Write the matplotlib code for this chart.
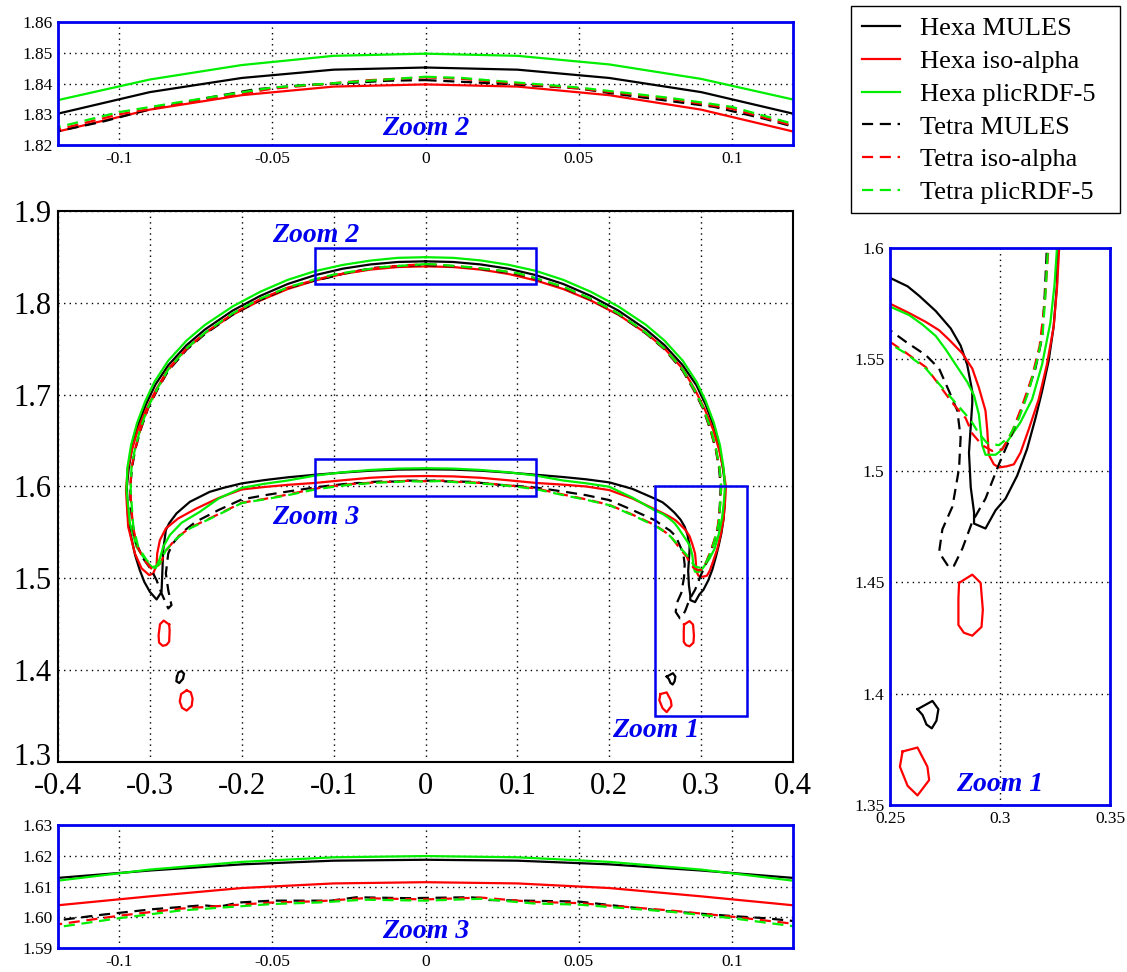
import matplotlib.pyplot as plt
from matplotlib.patches import Rectangle
from matplotlib.lines import Line2D
from matplotlib.transforms import ScaledTranslation

plt.rcParams['font.family'] = ['Liberation Serif', 'DejaVu Serif']

# ---- contour data (closed paths: top -> right outer -> right tail -> inner arc -> left tail -> left outer -> top)
hexa_mules_x = [0.000, 0.030, 0.060, 0.090, 0.120, 0.150, 0.180, 0.210, 0.240, 0.260, 0.280, 0.295, 0.305, 0.314,
                0.320, 0.324, 0.3262, 0.3259, 0.3244, 0.3221, 0.3191, 0.3161, 0.3123, 0.3078, 0.3025, 0.2980,
                0.2934, 0.2882, 0.2882, 0.2867, 0.2859, 0.2874, 0.2874, 0.2851, 0.2821, 0.2776, 0.2708, 0.2633,
                0.2580, 0.2500, 0.2250, 0.2000, 0.1750, 0.1500, 0.1200, 0.0900, 0.0600, 0.0300, 0.0000, -0.0300,
                -0.0600, -0.0900, -0.1200, -0.1500, -0.1750, -0.2000, -0.2200, -0.2348, -0.2565, -0.2710, -0.2790,
                -0.2826, -0.2855, -0.2862, -0.2873, -0.2927, -0.3000, -0.3060, -0.3110, -0.3160, -0.3210, -0.3240,
                -0.3250, -0.3230, -0.3190, -0.3130, -0.3040, -0.2940, -0.2800, -0.2600, -0.2400, -0.2100, -0.1800,
                -0.1500, -0.1200, -0.0900, -0.0600, -0.0300, 0.0000]
hexa_mules_y = [1.8452, 1.8445, 1.8418, 1.8372, 1.8302, 1.8205, 1.8075, 1.7915, 1.7710, 1.7540, 1.7320, 1.7100,
                1.6890, 1.6650, 1.6420, 1.6180, 1.6000, 1.5837, 1.5648, 1.5493, 1.5356, 1.5235, 1.5098, 1.4978,
                1.4875, 1.4823, 1.4741, 1.4763, 1.4814, 1.4926, 1.5081, 1.5304, 1.5356, 1.5476, 1.5562, 1.5639,
                1.5717, 1.5785, 1.5828, 1.5866, 1.5975, 1.6045, 1.6078, 1.6103, 1.6128, 1.6152, 1.6172, 1.6184,
                1.6187, 1.6184, 1.6172, 1.6152, 1.6128, 1.6100, 1.6070, 1.6034, 1.5985, 1.5942, 1.5833, 1.5707,
                1.5600, 1.5525, 1.5307, 1.5125, 1.4853, 1.4770, 1.4853, 1.4960, 1.5090, 1.5250, 1.5480, 1.5700,
                1.6000, 1.6200, 1.6440, 1.6670, 1.6900, 1.7110, 1.7320, 1.7540, 1.7710, 1.7915, 1.8075, 1.8205,
                1.8302, 1.8372, 1.8418, 1.8445, 1.8452]

hexa_iso_x = [0.000, 0.030, 0.060, 0.090, 0.120, 0.150, 0.180, 0.210, 0.240, 0.260, 0.280, 0.293, 0.304, 0.313,
              0.3195, 0.3240, 0.3269, 0.3259, 0.3244, 0.3213, 0.3176, 0.3130, 0.3093, 0.3063, 0.3030, 0.2995,
              0.2972, 0.2949, 0.2942, 0.2934, 0.2904, 0.2874, 0.2829, 0.2769, 0.2723, 0.2663, 0.2587, 0.2500,
              0.2250, 0.2000, 0.1750, 0.1500, 0.1200, 0.0900, 0.0600, 0.0300, 0.0000, -0.0300, -0.0600, -0.0900,
              -0.1200, -0.1500, -0.1750, -0.2000, -0.2250, -0.2493, -0.2692, -0.2826, -0.2891, -0.2920, -0.2927,
              -0.2964, -0.3007, -0.3090, -0.3163, -0.3236, -0.3260, -0.3240, -0.3195, -0.3130, -0.3040, -0.2930,
              -0.2800, -0.2600, -0.2400, -0.2100, -0.1800, -0.1500, -0.1200, -0.0900, -0.0600, -0.0300, 0.0000]
hexa_iso_y = [1.8397, 1.8390, 1.8362, 1.8315, 1.8244, 1.8150, 1.8025, 1.7870, 1.7670, 1.7505, 1.7280, 1.7060,
              1.6840, 1.6620, 1.6400, 1.6200, 1.6000, 1.5820, 1.5648, 1.5476, 1.5321, 1.5184, 1.5081, 1.5029,
              1.5020, 1.5015, 1.5029, 1.5072, 1.5184, 1.5270, 1.5373, 1.5459, 1.5527, 1.5588, 1.5631, 1.5668,
              1.5708, 1.5750, 1.5870, 1.5961, 1.6000, 1.6020, 1.6039, 1.6068, 1.6095, 1.6110, 1.6114, 1.6110,
              1.6095, 1.6068, 1.6039, 1.6018, 1.5995, 1.5968, 1.5875, 1.5761, 1.5652, 1.5543, 1.5416, 1.5271,
              1.5144, 1.5053, 1.5035, 1.5108, 1.5271, 1.5561, 1.5960, 1.6200, 1.6400, 1.6620, 1.6840, 1.7060,
              1.7280, 1.7505, 1.7670, 1.7870, 1.8025, 1.8150, 1.8244, 1.8315, 1.8362, 1.8390, 1.8397]

hexa_plic_x = [0.000, 0.030, 0.060, 0.090, 0.120, 0.150, 0.180, 0.210, 0.240, 0.260, 0.280, 0.295, 0.305, 0.314,
               0.3205, 0.3245, 0.3259, 0.3248, 0.3229, 0.3191, 0.3146, 0.3093, 0.3040, 0.3002, 0.2980, 0.2934,
               0.2919, 0.2904, 0.2882, 0.2851, 0.2799, 0.2753, 0.2708, 0.2648, 0.2587, 0.2500, 0.2250, 0.2000,
               0.1750, 0.1500, 0.1200, 0.0900, 0.0600, 0.0300, 0.0000, -0.0300, -0.0600, -0.0900, -0.1200,
               -0.1500, -0.1750, -0.2000, -0.2250, -0.2457, -0.2655, -0.2783, -0.2855, -0.2891, -0.2935, -0.2971,
               -0.3036, -0.3145, -0.3217, -0.3254, -0.3245, -0.3205, -0.3140, -0.3050, -0.2950, -0.2800, -0.2600,
               -0.2400, -0.2100, -0.1800, -0.1500, -0.1200, -0.0900, -0.0600, -0.0300, 0.0000]
hexa_plic_y = [1.8497, 1.8490, 1.8462, 1.8415, 1.8348, 1.8250, 1.8120, 1.7960, 1.7760, 1.7590, 1.7370, 1.7140,
               1.6930, 1.6690, 1.6450, 1.6200, 1.6000, 1.5837, 1.5665, 1.5476, 1.5321, 1.5218, 1.5141, 1.5089,
               1.5072, 1.5072, 1.5115, 1.5253, 1.5338, 1.5399, 1.5476, 1.5545, 1.5605, 1.5656, 1.5699, 1.5737,
               1.5880, 1.5997, 1.6035, 1.6065, 1.6119, 1.6155, 1.6180, 1.6195, 1.6199, 1.6195, 1.6180, 1.6155,
               1.6119, 1.6065, 1.6030, 1.5985, 1.5870, 1.5724, 1.5605, 1.5471, 1.5343, 1.5216, 1.5114, 1.5119,
               1.5180, 1.5343, 1.5598, 1.5961, 1.6200, 1.6450, 1.6690, 1.6930, 1.7140, 1.7370, 1.7590, 1.7760,
               1.7960, 1.8120, 1.8250, 1.8346, 1.8413, 1.8460, 1.8490, 1.8497]

tetra_mules_x = [0.0000, 0.0108, 0.0275, 0.0500, 0.0608, 0.0775, 0.0942, 0.1108, 0.1200, 0.1500, 0.1800, 0.2100,
                 0.2400, 0.2600, 0.2800, 0.2920, 0.3020, 0.3100, 0.3160, 0.3195, 0.3213, 0.3203, 0.3191, 0.3161,
                 0.3115, 0.3055, 0.2995, 0.2934, 0.2874, 0.2829, 0.2791, 0.2769, 0.2723, 0.2738, 0.2784, 0.2814,
                 0.2821, 0.2806, 0.2769, 0.2723, 0.2663, 0.2572, 0.2500, 0.2250, 0.2000, 0.1750, 0.1500, 0.1200,
                 0.1108, 0.1000, 0.0775, 0.0608, 0.0500, 0.0208, 0.0192, 0.0142, -0.0058, -0.0225, -0.0308,
                 -0.0500, -0.0608, -0.0675, -0.0725, -0.0892, -0.1058, -0.1200, -0.1500, -0.1750, -0.2000,
                 -0.2250, -0.2500, -0.2650, -0.2750, -0.2800, -0.2826, -0.2800, -0.2765, -0.2800, -0.2873,
                 -0.2927, -0.2982, -0.3073, -0.3163, -0.3210, -0.3213, -0.3195, -0.3160, -0.3100, -0.3020,
                 -0.2920, -0.2800, -0.2600, -0.2400, -0.2100, -0.1800, -0.1500, -0.1200, -0.1058, -0.0892,
                 -0.0725, -0.0558, -0.0392, -0.0225, -0.0125, 0.0000]
tetra_mules_y = [1.8411, 1.8406, 1.8398, 1.8384, 1.8368, 1.8346, 1.8324, 1.8285, 1.8260, 1.8165, 1.8035, 1.7875,
                 1.7665, 1.7495, 1.7260, 1.7050, 1.6850, 1.6620, 1.6400, 1.6200, 1.6000, 1.5785, 1.5596, 1.5459,
                 1.5321, 1.5167, 1.5029, 1.4875, 1.4771, 1.4651, 1.4574, 1.4565, 1.4634, 1.4737, 1.4840, 1.5012,
                 1.5150, 1.5270, 1.5356, 1.5459, 1.5519, 1.5579, 1.5631, 1.5745, 1.5852, 1.5905, 1.5945, 1.5988,
                 1.5997, 1.6004, 1.6021, 1.6039, 1.6051, 1.6056, 1.6062, 1.6065, 1.6062, 1.6065, 1.6054, 1.6054,
                 1.6048, 1.6034, 1.6039, 1.6026, 1.6008, 1.5990, 1.5945, 1.5905, 1.5859, 1.5745, 1.5616, 1.5500,
                 1.5380, 1.5271, 1.5053, 1.4871, 1.4708, 1.4672, 1.4836, 1.4980, 1.5089, 1.5216, 1.5416, 1.5779,
                 1.6000, 1.6200, 1.6400, 1.6620, 1.6850, 1.7050, 1.7260, 1.7490, 1.7660, 1.7870, 1.8030, 1.8160,
                 1.8245, 1.8275, 1.8318, 1.8351, 1.8381, 1.8395, 1.8403, 1.8409, 1.8411]

tetra_iso_x = [0.0000, 0.0120, 0.0200, 0.0500, 0.0800, 0.1000, 0.1200, 0.1500, 0.1800, 0.2100, 0.2400, 0.2600,
               0.2800, 0.2920, 0.3020, 0.3100, 0.3160, 0.3200, 0.3220, 0.3203, 0.3180, 0.3145, 0.3100, 0.3055,
               0.3010, 0.2965, 0.2919, 0.2874, 0.2844, 0.2784, 0.2720, 0.2663, 0.2572, 0.2500, 0.2250, 0.2000,
               0.1750, 0.1500, 0.1200, 0.1000, 0.0800, 0.0500, 0.0350, 0.0180, 0.0000, -0.0200, -0.0350, -0.0500,
               -0.0800, -0.1000, -0.1200, -0.1500, -0.1750, -0.2000, -0.2250, -0.2565, -0.2710, -0.2826, -0.2880,
               -0.2950, -0.2990, -0.3060, -0.3140, -0.3185, -0.3215, -0.3200, -0.3160, -0.3100, -0.3020, -0.2920,
               -0.2800, -0.2600, -0.2400, -0.2100, -0.1800, -0.1500, -0.1200, -0.1000, -0.0500, -0.0200, 0.0000]
tetra_iso_y = [1.8420, 1.8415, 1.8408, 1.8384, 1.8350, 1.8318, 1.8263, 1.8170, 1.8040, 1.7880, 1.7670, 1.7500,
               1.7270, 1.7060, 1.6860, 1.6630, 1.6410, 1.6200, 1.6000, 1.5750, 1.5560, 1.5420, 1.5290, 1.5176,
               1.5095, 1.5089, 1.5115, 1.5167, 1.5236, 1.5304, 1.5390, 1.5465, 1.5530, 1.5579, 1.5695, 1.5800,
               1.5860, 1.5912, 1.5979, 1.6002, 1.6022, 1.6046, 1.6050, 1.6064, 1.6058, 1.6062, 1.6052, 1.6048,
               1.6028, 1.6005, 1.5977, 1.5912, 1.5865, 1.5823, 1.5700, 1.5550, 1.5440, 1.5300, 1.5170, 1.5100,
               1.5110, 1.5200, 1.5350, 1.5570, 1.5960, 1.6200, 1.6410, 1.6630, 1.6860, 1.7060, 1.7270, 1.7500,
               1.7670, 1.7880, 1.8040, 1.8165, 1.8250, 1.8300, 1.8383, 1.8410, 1.8420]

tetra_plic_x = [0.0000, 0.0120, 0.0200, 0.0500, 0.0800, 0.1000, 0.1200, 0.1500, 0.1800, 0.2100, 0.2400, 0.2600,
                0.2800, 0.2920, 0.3020, 0.3100, 0.3160, 0.3200, 0.3218, 0.3206, 0.3194, 0.3168, 0.3130, 0.3086,
                0.3040, 0.2995, 0.2942, 0.2904, 0.2867, 0.2829, 0.2784, 0.2723, 0.2663, 0.2572, 0.2500, 0.2250,
                0.2000, 0.1750, 0.1500, 0.1200, 0.1000, 0.0800, 0.0500, 0.0350, 0.0180, 0.0000, -0.0200, -0.0350,
                -0.0500, -0.0800, -0.1000, -0.1200, -0.1500, -0.1750, -0.2000, -0.2250, -0.2565, -0.2710, -0.2826,
                -0.2891, -0.2935, -0.2964, -0.3036, -0.3127, -0.3180, -0.3210, -0.3200, -0.3160, -0.3100, -0.3020,
                -0.2920, -0.2800, -0.2600, -0.2400, -0.2100, -0.1800, -0.1500, -0.1200, -0.1000, -0.0800, -0.0500,
                -0.0200, 0.0000]
tetra_plic_y = [1.8422, 1.8418, 1.8411, 1.8387, 1.8353, 1.8324, 1.8269, 1.8175, 1.8045, 1.7885, 1.7675, 1.7505,
                1.7275, 1.7065, 1.6865, 1.6640, 1.6420, 1.6210, 1.6000, 1.5785, 1.5613, 1.5493, 1.5356, 1.5236,
                1.5150, 1.5115, 1.5124, 1.5167, 1.5227, 1.5270, 1.5321, 1.5390, 1.5459, 1.5527, 1.5570, 1.5690,
                1.5797, 1.5855, 1.5906, 1.5971, 1.5997, 1.6018, 1.6041, 1.6045, 1.6060, 1.6054, 1.6057, 1.6048,
                1.6043, 1.6022, 1.5997, 1.5968, 1.5905, 1.5860, 1.5820, 1.5695, 1.5543, 1.5434, 1.5307, 1.5162,
                1.5125, 1.5132, 1.5198, 1.5343, 1.5561, 1.5960, 1.6210, 1.6420, 1.6640, 1.6865, 1.7065, 1.7275,
                1.7505, 1.7675, 1.7885, 1.8045, 1.8168, 1.8258, 1.8307, 1.8340, 1.8387, 1.8408, 1.8422]

# satellite droplets
iso_drop_r1_x = [0.2814, 0.2874, 0.2912, 0.2922, 0.2916, 0.2874, 0.2836, 0.2811, 0.2811, 0.2814]
iso_drop_r1_y = [1.4497, 1.4534, 1.4497, 1.4376, 1.4299, 1.4260, 1.4273, 1.4308, 1.4428, 1.4497]
iso_drop_l1_x = [-0.2790, -0.2850, -0.2890, -0.2905, -0.2900, -0.2860, -0.2820, -0.2790, -0.2785, -0.2790]
iso_drop_l1_y = [1.4497, 1.4540, 1.4500, 1.4380, 1.4300, 1.4265, 1.4275, 1.4310, 1.4430, 1.4497]
iso_drop_r2_x = [0.2557, 0.2625, 0.2670, 0.2678, 0.2625, 0.2580, 0.2545, 0.2557]
iso_drop_r2_y = [1.3740, 1.3758, 1.3672, 1.3612, 1.3543, 1.3586, 1.3672, 1.3740]
iso_drop_l2_x = [-0.2600, -0.2555, -0.2535, -0.2545, -0.2600, -0.2650, -0.2675, -0.2660, -0.2600]
iso_drop_l2_y = [1.3780, 1.3760, 1.3690, 1.3610, 1.3560, 1.3590, 1.3660, 1.3740, 1.3780]
mules_drop_r_x = [0.2625, 0.2693, 0.2720, 0.2711, 0.2690, 0.2666, 0.2648, 0.2625]
mules_drop_r_y = [1.3930, 1.3967, 1.3930, 1.3878, 1.3844, 1.3861, 1.3904, 1.3930]
mules_drop_l_x = [-0.2705, -0.2690, -0.2655, -0.2628, -0.2640, -0.2680, -0.2712, -0.2705]
mules_drop_l_y = [1.3930, 1.3975, 1.3990, 1.3960, 1.3905, 1.3860, 1.3880, 1.3930]

labels = ["Hexa MULES", "Hexa iso-alpha", "Hexa plicRDF-5", "Tetra MULES", "Tetra iso-alpha", "Tetra plicRDF-5"]
colors = ["black", "#ff0000", "#00ee00", "black", "#ff0000", "#00ee00"]

main_xticks = [-0.4, -0.3, -0.2, -0.1, 0, 0.1, 0.2, 0.3, 0.4]
main_xlabels = ["-0.4", "-0.3", "-0.2", "-0.1", "0", "0.1", "0.2", "0.3", "0.4"]
main_yticks = [1.3, 1.4, 1.5, 1.6, 1.7, 1.8, 1.9]
main_ylabels = ["1.3", "1.4", "1.5", "1.6", "1.7", "1.8", "1.9"]
zh_xticks = [-0.1, -0.05, 0, 0.05, 0.1]
zh_xlabels = ["-0.1", "-0.05", "0", "0.05", "0.1"]
z2_yticks = [1.82, 1.83, 1.84, 1.85, 1.86]
z2_ylabels = ["1.82", "1.83", "1.84", "1.85", "1.86"]
z3_yticks = [1.59, 1.60, 1.61, 1.62, 1.63]
z3_ylabels = ["1.59", "1.60", "1.61", "1.62", "1.63"]
z1_xticks = [0.25, 0.3, 0.35]
z1_xlabels = ["0.25", "0.3", "0.35"]
z1_yticks = [1.35, 1.4, 1.45, 1.5, 1.55, 1.6]
z1_ylabels = ["1.35", "1.4", "1.45", "1.5", "1.55", "1.6"]

# zoom windows (x0, x1, y0, y1)
zoom1 = (0.25, 0.35, 1.35, 1.6)
zoom2 = (-0.12, 0.12, 1.82, 1.86)
zoom3 = (-0.12, 0.12, 1.59, 1.63)

contours = [(hexa_mules_x, hexa_mules_y), (hexa_iso_x, hexa_iso_y), (hexa_plic_x, hexa_plic_y),
            (tetra_mules_x, tetra_mules_y), (tetra_iso_x, tetra_iso_y), (tetra_plic_x, tetra_plic_y)]
drops = [[(mules_drop_r_x, mules_drop_r_y), (mules_drop_l_x, mules_drop_l_y)],
         [(iso_drop_r1_x, iso_drop_r1_y), (iso_drop_l1_x, iso_drop_l1_y),
          (iso_drop_r2_x, iso_drop_r2_y), (iso_drop_l2_x, iso_drop_l2_y)],
         [], [], [], []]
DASH = (0, (5, 3))
BLUE = '#0000ee'


def draw_curves(ax, lw):
    for i in range(6):
        ls = '-' if i < 3 else DASH
        cx, cy = contours[i]
        ax.plot(cx, cy, color=colors[i], lw=lw, linestyle=ls)
        for dx, dy in drops[i]:
            ax.plot(dx, dy, color=colors[i], lw=lw, linestyle=ls)


def style_axes(ax, spine_color, spine_lw, fs, xt, xl, yt, yl, xpad=4, ypad=4):
    ax.set_xticks(xt, xl)
    ax.set_yticks(yt, yl)
    ax.tick_params(length=0, labelsize=fs)
    ax.tick_params(axis='x', pad=xpad)
    ax.tick_params(axis='y', pad=ypad)
    ax.grid(True, color='black', linestyle=(0, (1, 3)), linewidth=1.0)
    for s in ax.spines.values():
        s.set_color(spine_color)
        s.set_linewidth(spine_lw)


W, H = 1127, 972
fig = plt.figure(figsize=(W / 100, H / 100), dpi=100)

zoom_font = dict(color=BLUE, fontsize=20, fontweight='bold', fontstyle='italic', ha='center', va='center')

# main panel
ax = fig.add_axes([58 / W, 1 - 762 / H, 735 / W, 551 / H])
draw_curves(ax, 1.6)
ax.set_xlim(-0.4, 0.4)
ax.set_ylim(1.3, 1.9)
style_axes(ax, 'black', 1.5, 22, main_xticks, main_xlabels, main_yticks, main_ylabels, xpad=7, ypad=5)
# nudge the bottom y label up a little so it does not sit on "-0.4"
lab0 = ax.yaxis.get_major_ticks()[0].label1
lab0.set_transform(lab0.get_transform() + ScaledTranslation(0, 8 / 100, fig.dpi_scale_trans))
for z in (zoom1, zoom2, zoom3):
    ax.add_patch(Rectangle((z[0], z[2]), z[1] - z[0], z[3] - z[2], fill=False, ec=BLUE, lw=1.8, zorder=5))
ax.text(-0.12, 1.873, 'Zoom 2', **zoom_font)
ax.text(-0.12, 1.566, 'Zoom 3', **zoom_font)
ax.text(0.25, 1.334, 'Zoom 1', **zoom_font)

# zoom 2 (top)
ax2 = fig.add_axes([58 / W, 1 - 145 / H, 735 / W, 123 / H])
draw_curves(ax2, 1.6)
ax2.set_xlim(zoom2[0], zoom2[1])
ax2.set_ylim(zoom2[2], zoom2[3])
style_axes(ax2, BLUE, 2.0, 12.5, zh_xticks, zh_xlabels, z2_yticks, z2_ylabels)
ax2.text(0, 1.8255, 'Zoom 2', **zoom_font)

# zoom 3 (bottom)
ax3 = fig.add_axes([58 / W, 1 - 948 / H, 735 / W, 123 / H])
draw_curves(ax3, 1.6)
ax3.set_xlim(zoom3[0], zoom3[1])
ax3.set_ylim(zoom3[2], zoom3[3])
style_axes(ax3, BLUE, 2.0, 12.5, zh_xticks, zh_xlabels, z3_yticks, z3_ylabels)
ax3.text(0, 1.5955, 'Zoom 3', **zoom_font)

# zoom 1 (right)
ax1 = fig.add_axes([890 / W, 1 - 805 / H, 220 / W, 557 / H])
draw_curves(ax1, 1.6)
ax1.set_xlim(zoom1[0], zoom1[1])
ax1.set_ylim(zoom1[2], zoom1[3])
style_axes(ax1, BLUE, 2.0, 12.5, z1_xticks, z1_xlabels, z1_yticks, z1_ylabels)
ax1.text(0.3, 1.359, 'Zoom 1', **zoom_font)

# legend with its own frame
handles = [Line2D([], [], color=colors[i], lw=1.6, linestyle='-' if i < 3 else DASH) for i in range(6)]
fig.legend(handles, labels, loc='upper left', bbox_to_anchor=(862 / W, 1 - 17 / H), fontsize=19,
           frameon=False, borderaxespad=0, borderpad=0, handlelength=1.45, labelspacing=0.35,
           handletextpad=0.75)
fig.add_artist(Rectangle((851 / W, 1 - 213 / H), 269 / W, 207 / H, transform=fig.transFigure,
                         fill=False, ec='black', lw=1.0))

fig.savefig('out.png', dpi=100)
